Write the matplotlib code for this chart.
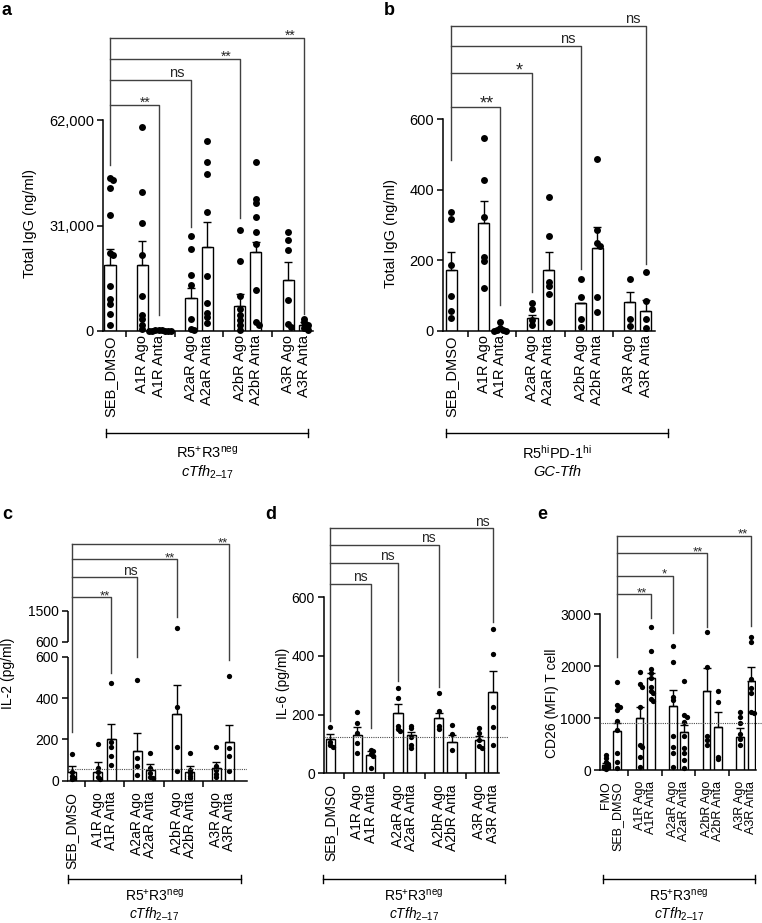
import numpy as np
import matplotlib
matplotlib.use("Agg")
import matplotlib.pyplot as plt
from matplotlib.lines import Line2D

plt.rcParams['font.family'] = ['Liberation Sans', 'DejaVu Sans']
plt.rcParams['mathtext.fontset'] = 'custom'
plt.rcParams['mathtext.rm'] = 'Liberation Sans'
plt.rcParams['mathtext.it'] = 'Liberation Sans:italic'
plt.rcParams['mathtext.bf'] = 'Liberation Sans:bold'

# ---------------- data ----------------
ab_names = ["SEB_DMSO", "A1R Ago", "A1R Anta", "A2aR Ago", "A2aR Anta",
            "A2bR Ago", "A2bR Anta", "A3R Ago", "A3R Anta"]
ab_pos = [0, 2, 3, 5, 6, 8, 9, 11, 12]
ab_sep = [1, 4, 7, 10]
e_names = ["FMO"] + ab_names
e_pos = [0, 1, 3, 4, 6, 7, 9, 10, 12, 13]
e_sep = [2, 5, 8, 11]

# a: total IgG, cTfh
a_mean = [19300, 19500, 100, 9700, 24700, 7400, 23200, 15100, 1700]
a_sem = [4800, 7000, 50, 3050, 7400, 3400, 2850, 5300, 950]
a_dots = [
    [45000, 44500, 41900, 34000, 22800, 22300, 13100, 9500, 8000, 5100, 1900],
    [59800, 40700, 31800, 22300, 10300, 4600, 3600, 1700, 700],
    [300, 200, 150, 100, 80, 50, 20, 0],
    [28000, 24100, 16600, 13600, 3400, 700, 200],
    [55900, 49700, 46200, 34900, 16100, 8200, 5300, 4100, 2300],
    [29600, 20600, 10300, 6600, 4600, 3100, 1700, 200],
    [49800, 38900, 37500, 33400, 29000, 25700, 12000, 2600, 1700],
    [29100, 26700, 23900, 9200, 2100, 1200],
    [3600, 2600, 1700, 800, 300],
]
a_sig = ["**", "ns", "**", "**"]
a_sig_h = [66400, 73800, 79950, 86040]
a_sig_end = [4600, 30600, 33100, 5100]
a_sig_start = 48800

# b: total IgG, GC-Tfh
b_mean = [172, 305, 3, 37, 174, 78, 234, 82, 57]
b_sem = [53, 64, 2, 9, 51, 2, 61, 28, 30]
b_dots = [
    [337, 317, 186, 99, 56, 37],
    [548, 428, 324, 210, 198, 123],
    [26, 8, 4, 2, 0, 0],
    [78, 63, 30, 16],
    [380, 268, 139, 127, 106, 25],
    [146, 96, 33, 11],
    [488, 286, 248, 240, 95, 54],
    [146, 35, 13],
    [166, 84, 35, 9],
]
b_sig = ["**", "*", "ns", "ns"]
b_sig_h = [636, 731, 808, 865]
b_sig_end = [73, 111, 177, 191]
b_sig_start = 485

# c: IL-2
c_mean = [44, 44, 203, 145, 52, 321, 44, 63, 189]
c_sem = [27, 48, 70, 87, 27, 142, 27, 29, 80]
c_dots = [
    [127, 40, 25, 15, 8],
    [176, 60, 40, 20, 10],
    [471, 189, 161, 121, 76],
    [489, 111, 71, 27],
    [135, 60, 39, 19, 11],
    [1000, 358, 161, 48],
    [132, 52, 35, 23, 11],
    [161, 71, 52, 32, 19],
    [506, 156, 121, 48],
]
c_sig = ["**", "ns", "**", "**"]
c_sig_h = [1889, 2470, 2992, 3436]
c_sig_end = [520, 600, 1308, 584]
c_sig_start = 237
c_baseline = 58

# d: IL-6
d_mean = [118, 131, 62, 207, 130, 190, 108, 114, 276]
d_sem = [16, 28, 14, 28, 12, 14, 23, 14, 74]
d_dots = [
    [159, 108, 97, 89],
    [208, 170, 136, 102, 70],
    [80, 75, 65, 60, 18],
    [292, 258, 160, 150, 145],
    [162, 153, 125, 97, 85],
    [275, 213, 160, 150],
    [165, 134, 80],
    [156, 139, 114, 93, 85],
    [491, 406, 227, 157, 97],
]
d_sig = ["ns", "ns", "ns", "ns"]
d_sig_h = [645, 716, 778, 835]
d_sig_end = [153, 315, 295, 517]
d_sig_start = 178
d_baseline = 125

# e: CD26 MFI
e_mean = [96, 756, 994, 1763, 1237, 724, 1526, 833, 641, 1718]
e_sem = [30, 141, 224, 110, 301, 141, 440, 276, 173, 256]
e_dots = [
    [288, 237, 160, 115, 77, 51, 32, 13],
    [1699, 1250, 1205, 1154, 949, 769, 320, 160, 32],
    [1891, 1647, 1603, 1218, 481, 449, 256, 51],
    [2743, 2295, 1936, 1859, 1763, 1603, 1519, 1474, 1359, 1333],
    [2391, 2070, 1397, 1346, 654, 449, 320, 51],
    [1718, 1058, 1026, 929, 654, 417, 320, 192, 32],
    [2647, 1974, 654, 577, 481],
    [1526, 1301, 256, 205],
    [1109, 1026, 910, 692, 590, 481],
    [2564, 2468, 1744, 1583, 1474, 1109, 1090],
]
e_sig = ["**", "*", "**", "**"]
e_sig_h = [3384, 3737, 4167, 4506]
e_sig_end = [2917, 2641, 2756, 2776]
e_sig_start = 2179
e_baseline = 897

# ---------------- figure ----------------
W, H = 762, 923
fig = plt.figure(figsize=(W / 100, H / 100), dpi=100)
BR = '0.25'


def make_axes(left, right, x0, unit, zero_px, top_px):
    ax = fig.add_axes([left / W, 1 - zero_px / H, (right - left) / W, (zero_px - top_px) / H])
    ax.set_xlim((left - x0) / unit, (right - x0) / unit)
    ax.patch.set_alpha(0)
    for s in ['top', 'right']:
        ax.spines[s].set_visible(False)
    for s in ['left', 'bottom']:
        ax.spines[s].set_linewidth(1.1)
    return ax


def style_ticks(ax, pos, names, sep, yt, ytl, fs, xpad=3, xfs=None):
    ax.set_yticks(yt, ytl)
    ax.tick_params(axis='y', length=4, width=1.1, labelsize=fs, pad=2.5)
    ax.set_xticks(pos, names, rotation=90, fontsize=xfs or fs)
    ax.tick_params(axis='x', which='major', length=0, pad=xpad)
    ax.set_xticks(sep, minor=True)
    ax.tick_params(axis='x', which='minor', length=4, width=1.1)


def set_ylabel_px(ax, text, fs, right_px, mid_px, left, right, zero_px, top_px):
    ax.set_ylabel(text, fontsize=fs)
    ax.yaxis.set_label_coords((right_px - left) / (right - left),
                              (zero_px - mid_px) / (zero_px - top_px))


def swarm(ax, x0, vals, dot_px):
    vals = np.asarray(vals, float)
    disp = ax.transData.transform(np.column_stack([np.full(len(vals), x0), vals]))
    cx = disp[0, 0]
    step = 0.45 * dot_px
    placed, xs = [], []
    for y in disp[:, 1]:
        for k in [0, 1, -1, 2, -2, 3, -3, 4, -4]:
            x = cx + k * step
            if all(np.hypot(x - qx, y - qy) >= step for qx, qy in placed):
                break
        placed.append((x, y))
        xs.append(x)
    back = ax.transData.inverted().transform(np.column_stack([xs, disp[:, 1]]))
    return back[:, 0]


def draw_bars(ax, pos, mean, sem, dots, dot_pt):
    ax.bar(pos, mean, width=0.68, color='white', edgecolor='black', linewidth=1.0, zorder=2)
    ax.errorbar(pos, mean, yerr=[np.zeros(len(sem)), sem], fmt='none', ecolor='black',
                elinewidth=1.0, capsize=3.2, capthick=1.0, zorder=3)
    for p, vals in zip(pos, dots):
        xs = swarm(ax, p, vals, dot_pt * 100 / 72)
        ax.scatter(xs, vals, s=dot_pt ** 2, color='black', linewidths=0, zorder=4, clip_on=False)


def brackets(ax, x_ref, start, targets, heights, ends, labels, dx, fs_star, fs_ns):
    ax.plot([x_ref, x_ref], [start, max(heights)], color=BR, lw=1.0, clip_on=False)
    for xt, h, e, lab in zip(targets, heights, ends, labels):
        ax.plot([x_ref, xt, xt], [h, h, e], color=BR, lw=1.0, clip_on=False)
        star = '*' in lab
        ax.annotate(lab, (xt - dx, h), xytext=(0, -1.5 if star else 2),
                    textcoords='offset points', ha='center', va='baseline',
                    fontsize=fs_star if star else fs_ns, color='0.15')


def group_label(x1, x2, y, y1, y2, line1, line2, fs, ital=False):
    fig.add_artist(Line2D([x1 / W, x2 / W], [1 - y / H] * 2, color='black', lw=1.0))
    for x in (x1, x2):
        fig.add_artist(Line2D([x / W] * 2, [1 - (y - 4) / H, 1 - (y + 4) / H], color='black', lw=1.0))
    fig.text((x1 + x2) / 2 / W, 1 - y1 / H, line1, ha='center', va='center', fontsize=fs)
    fig.text((x1 + x2) / 2 / W, 1 - y2 / H, line2, ha='center', va='center', fontsize=fs,
             style='italic' if ital else 'normal')


r5r3 = r"R5$^{+}$R3$^{\mathrm{neg}}$"
ctfh = "$\\mathit{cTfh}_{\\mathrm{2\u201317}}$"

# ---- panel a ----
L = (103, 313, 331, 30)
ax = make_axes(L[0], L[1], 110, 16.2, L[2], L[3])
ax.set_ylim(0, (331 - 30) / (331 - 120) * 62000)
ax.spines['left'].set_bounds(0, 62000)
style_ticks(ax, ab_pos, ab_names, ab_sep, [0, 31000, 62000], ["0", "31,000", "62,000"], 10.5)
set_ylabel_px(ax, "Total IgG (ng/ml)", 10.5, 37, 223, *L)
draw_bars(ax, ab_pos, a_mean, a_sem, a_dots, 5.0)
brackets(ax, ab_pos[0], a_sig_start, [ab_pos[i] for i in (2, 3, 5, 8)],
         a_sig_h, a_sig_end, a_sig, 0.85, 10, 10.5)
group_label(106, 308, 433, 453, 472, r5r3, ctfh, 10.5)

# ---- panel b ----
L = (443, 655, 331, 22)
ax = make_axes(L[0], L[1], 451.3, 16.2, L[2], L[3])
ax.set_ylim(0, (331 - 22) / (331 - 119.3) * 600)
ax.spines['left'].set_bounds(0, 600)
style_ticks(ax, ab_pos, ab_names, ab_sep, [0, 200, 400, 600], ["0", "200", "400", "600"], 10.5)
set_ylabel_px(ax, "Total IgG (ng/ml)", 10.5, 398, 233, *L)
draw_bars(ax, ab_pos, b_mean, b_sem, b_dots, 5.0)
brackets(ax, ab_pos[0], b_sig_start, [ab_pos[i] for i in (2, 3, 5, 8)],
         b_sig_h, b_sig_end, b_sig, 0.8, 13, 10.5)
group_label(446, 668, 433, 453, 472, r"R5$^{\mathrm{hi}}$PD-1$^{\mathrm{hi}}$", "GC-Tfh", 10.5, ital=True)

# ---- panel c (broken y axis) ----
GAP, K = 72.6, 0.1668


def c_fwd(y):
    y = np.asarray(y, float)
    return np.where(y <= 600, y, 600 + GAP + (y - 600) * K)


def c_inv(z):
    z = np.asarray(z, float)
    return np.where(z <= 600, z, np.where(z < 600 + GAP, 600, 600 + (z - 600 - GAP) / K))


L = (68, 247, 780.7, 538)
ax = make_axes(L[0], L[1], 71.7, 13.13, L[2], L[3])
ax.set_yscale('function', functions=(c_fwd, c_inv))
ax.set_ylim(0, 3610)
ax.spines['left'].set_visible(False)
for lo, hi in [(0, 600), (600.0001, 1500)]:
    ax.plot([0, 0], [lo, hi], color='black', lw=1.1, transform=ax.get_yaxis_transform(),
            clip_on=False, solid_capstyle='butt')
style_ticks(ax, ab_pos, ab_names, ab_sep, [0, 200, 400, 600, 600.0001, 1500],
            ["0", "200", "400", "600", "600", "1500"], 10, xpad=8)
set_ylabel_px(ax, "IL-2 (pg/ml)", 10, 15, 673, *L)
ax.axhline(c_baseline, color='0.3', lw=0.8, ls=(0, (1, 1)), zorder=5)
draw_bars(ax, ab_pos, c_mean, c_sem, c_dots, 3.8)
brackets(ax, ab_pos[0], c_sig_start, [ab_pos[i] for i in (2, 3, 5, 8)],
         c_sig_h, c_sig_end, c_sig, 0.5, 9.5, 10)
group_label(68, 241, 879, 896, 914, r5r3, ctfh, 10)

# ---- panel d ----
L = (324, 499, 773.3, 525)
ax = make_axes(L[0], L[1], 330.3, 13.53, L[2], L[3])
ax.set_ylim(0, (773.3 - 525) / (773.3 - 597.3) * 600)
ax.spines['left'].set_bounds(0, 600)
style_ticks(ax, ab_pos, ab_names, ab_sep, [0, 200, 400, 600], ["0", "200", "400", "600"], 10, xpad=8)
set_ylabel_px(ax, "IL-6 (pg/ml)", 10, 290, 683, *L)
ax.axhline(d_baseline, xmax=1.05, color='0.3', lw=0.8, ls=(0, (1, 1)), zorder=5, clip_on=False)
draw_bars(ax, ab_pos, d_mean, d_sem, d_dots, 3.8)
brackets(ax, ab_pos[0], d_sig_start, [ab_pos[i] for i in (2, 3, 5, 8)],
         d_sig_h, d_sig_end, d_sig, 0.75, 9.5, 10)
group_label(323, 505, 879, 896, 914, r5r3, ctfh, 10)

# ---- panel e ----
L = (600, 756, 770, 532)
ax = make_axes(L[0], L[1], 606, 11.18, L[2], L[3])
ax.set_ylim(0, (770 - 532) / (770 - 614) * 3000)
ax.spines['left'].set_bounds(0, 3000)
style_ticks(ax, e_pos, e_names, e_sep, [0, 1000, 2000, 3000], ["0", "1000", "2000", "3000"], 10,
            xpad=8, xfs=9)
set_ylabel_px(ax, "CD26 (MFI) T cell", 10, 559, 703, *L)
ax.axhline(e_baseline, xmax=1.05, color='0.3', lw=0.8, ls=(0, (1, 1)), zorder=5, clip_on=False)
draw_bars(ax, e_pos, e_mean, e_sem, e_dots, 3.8)
brackets(ax, e_pos[1], e_sig_start, [e_pos[i] for i in (3, 4, 6, 9)],
         e_sig_h, e_sig_end, e_sig, 0.8, 9.5, 10)
group_label(603, 755, 879, 896, 914, r5r3, ctfh, 10)

# panel letters
for lab, x, y in [("a", 1, 2), ("b", 384, 2), ("c", 2, 506), ("d", 265, 506), ("e", 537, 506)]:
    fig.text(x / W, 1 - y / H, lab, fontsize=13, fontweight='bold', ha='left', va='top')

fig.savefig("out.png", dpi=100)
